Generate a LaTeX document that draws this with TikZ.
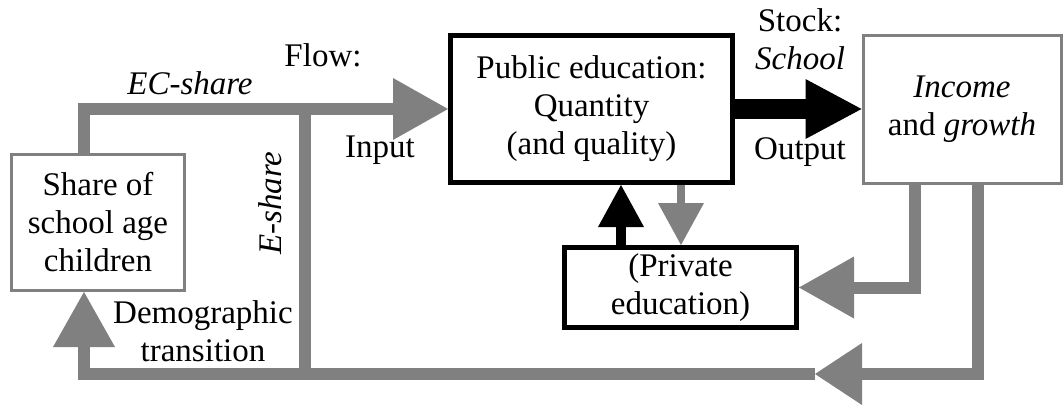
\documentclass[tikz,border=0pt]{standalone}
\usepackage{fontspec}
\setmainfont{Liberation Serif}
\usetikzlibrary{arrows.meta,positioning,calc}
\definecolor{flowgray}{RGB}{128,128,128}
\tikzset{
block/.style = {draw, fill=white, rectangle, align=center, line width=5pt, inner sep=0pt},
greyblock/.style = {block, draw=flowgray, line width=3pt},
tag/.style = {align=center, inner sep=0pt},
flowline/.style = {draw=flowgray, line width=12pt},
flow/.style = {flowline, -{Triangle[length=55pt,width=62pt,line width=0pt]}},
outflow/.style = {draw=black, line width=20pt, -{Triangle[length=56pt,width=60pt,line width=0pt]}},
upflow/.style = {draw=black, line width=10pt, -{Triangle[length=42pt,width=46pt,line width=0pt]}},
downflow/.style = {draw=flowgray, line width=8pt, -{Triangle[length=42pt,width=46pt,line width=0pt]}},
}
\begin{document}
\begin{tikzpicture}[x=1pt, y=-1pt, font=\fontsize{33}{38}\selectfont]
      \useasboundingbox (0,0) rectangle (1063,407);
      \node [greyblock, name=share, minimum width=173pt, minimum height=136pt] at (98,222.5)
         {Share of\\school age\\children};
      \node [block, name=public, minimum width=282pt, minimum height=147pt] at (591.5,109)
         {Public education:\\Quantity\\(and quality)};
      \node [greyblock, name=income, right of=public, node distance=370.5pt,
         minimum width=198pt, minimum height=148pt] {\textit{Income}\\and \textit{growth}};
      \node [block, name=private, minimum width=232pt, minimum height=80pt] at (680.5,287.5)
         {(Private\\education)};
      % labels
      \node [tag, name=ecshare] at (190,83) {\textit{EC-share}};
      \node [tag, name=flowtag] at (323,55) {Flow:};
      \node [tag, name=input, below of=flowtag, node distance=95pt, xshift=57pt] {Input};
      \node [tag, name=eshare, rotate=90] at (270,203) {\textit{E-share}};
      \node [tag, name=demo] at (203,331.5) {Demographic\\transition};
      \node [tag, name=stock] at (800,39) {Stock:\\\textit{School}};
      \node [tag, name=output, below of=stock, node distance=113pt] {Output};
      % connectors
      \coordinate (split) at (305,109);
      \coordinate (merge) at (305,374);
      \coordinate (ret) at (815,374);
      \coordinate (upx) at ([xshift=29.5pt]public.south);
      \coordinate (downx) at ([xshift=89.5pt]public.south);
      \draw [flow] ([xshift=-14pt]share.north) |- (public.west);
      \draw [flowline] (split) -- (merge);
      \draw [outflow] (public.east) -- (public.east -| income.west);
      \draw [upflow] (upx |- private.north) -- (upx);
      \draw [downflow] (downx) -- (downx |- private.north);
      \draw [flow] ([xshift=-47pt]income.south) |- (private.east);
      \draw [flow, -{Triangle[length=47pt,width=62pt,line width=0pt]}] ([xshift=16pt]income.south) |- (ret);
      \draw [flow] (ret) -| ([xshift=-14pt]share.south);
\end{tikzpicture}
\end{document}
